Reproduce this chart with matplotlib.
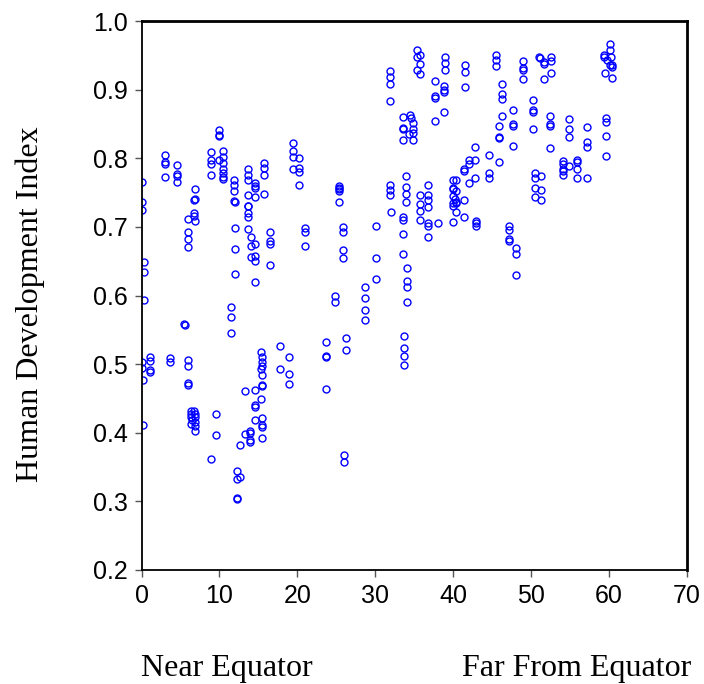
import matplotlib.pyplot as plt

# latitude (absolute degrees) and human development index, read column by column
lat = [0.1, 0.1, 0.1, 0.3, 0.3, 0.3, 0.1, 0.1, 0.2, 0.2,
       1.1, 1.1, 1.1, 1.1,
       3.0, 3.0, 3.0, 3.0, 3.7, 3.7,
       4.5, 4.5, 4.5, 4.5,
       5.5, 5.6,
       6.0, 6.0, 6.0, 6.0, 6.0, 6.0, 6.0, 6.0,
       6.8, 6.8, 6.7, 6.7, 6.7, 6.8, 6.3, 6.7, 6.3, 6.8, 6.3, 6.8, 6.5, 6.8, 6.3, 6.8, 6.8,
       8.9, 8.9, 8.9, 8.9, 8.9, 9.5, 9.5,
       9.9, 9.9, 9.9, 9.9,
       10.5, 10.5, 10.5, 10.4, 10.4, 10.4, 10.4,
       11.9, 11.9, 11.9, 11.9, 12.0, 12.0, 12.0, 12.0, 11.5, 11.5, 11.5,
       12.3, 12.3, 12.6, 12.3, 12.3, 12.6,
       13.3, 13.3, 13.9, 13.9, 13.9, 13.9,
       13.7, 13.7, 13.7, 13.7, 13.7, 13.7, 13.7, 13.7, 13.7,
       14.5, 14.5, 14.5, 14.5, 14.1, 14.0, 14.6, 14.0, 14.6, 14.6, 14.6, 14.6, 14.6, 14.5, 14.6,
       15.7, 15.7, 15.7, 15.7, 15.3, 15.5, 15.5, 15.5, 15.3, 15.4, 15.4, 15.4, 15.3, 15.4, 15.4,
       15.4, 15.4,
       16.5, 16.5, 16.5, 16.5,
       17.8, 17.8,
       18.9, 18.9, 18.9,
       19.4, 19.4, 19.4, 19.4, 20.2, 20.2, 20.2, 20.2,
       21.0, 21.0, 21.0,
       23.7, 23.7, 23.7, 23.7,
       24.8, 24.8,
       25.3, 25.3, 25.3, 25.3, 25.3, 25.8, 25.8, 25.8, 25.8, 26.0, 26.0,
       26.3, 26.3,
       28.7, 28.7, 28.7, 28.7,
       30.1, 30.1, 30.1,
       31.9, 31.9, 31.9, 31.9, 31.9, 31.9, 31.9, 32.0,
       33.5, 33.5, 33.5, 33.5, 33.5, 33.5, 33.5, 33.5, 33.7, 33.7, 33.7, 33.7,
       33.9, 33.9, 33.9, 33.9, 34.0, 34.0, 34.0, 34.0,
       34.5, 34.6, 34.8, 34.8, 34.8, 34.3, 34.8,
       35.3, 35.3, 35.7, 35.7, 35.3, 35.7, 35.7, 35.7, 35.7, 35.7,
       36.8, 36.8, 36.8, 36.8, 36.8, 36.8, 36.8,
       37.6, 37.6, 37.6, 37.6, 38.0,
       38.9, 38.9, 38.9, 38.8, 38.8, 38.8, 38.8,
       40.0, 40.3, 40.0, 40.0, 40.3, 40.0, 40.2, 40.3, 40.3, 40.0, 40.0, 40.3, 40.0,
       41.5, 41.5, 41.5, 41.4, 41.4, 41.4, 41.4,
       42.0, 42.0, 42.0, 42.8, 42.8, 42.8, 42.9, 42.9, 42.9,
       44.6, 44.6, 44.6,
       45.5, 45.5, 45.5, 45.9, 45.9, 45.9, 45.9,
       46.2, 46.2, 46.2, 46.2,
       47.6, 47.6, 47.6, 47.6, 47.1, 47.1, 47.1, 47.1,
       48.1, 48.1, 48.1,
       49.0, 49.0, 49.0, 49.0,
       50.2, 50.2, 50.2, 50.2,
       50.5, 50.5, 51.3, 50.5, 51.3, 50.5, 51.3, 51.0, 51.1, 51.6, 51.6, 51.7,
       52.6, 52.6, 52.6, 52.4, 52.4, 52.4, 52.4,
       54.8, 54.8, 54.8, 54.1, 54.1, 54.1, 54.1, 54.1, 54.8,
       55.9, 55.9, 55.9, 55.9,
       57.1, 57.1, 57.1, 57.1,
       59.6, 59.6, 59.6, 59.6,
       60.1, 60.1, 59.4, 59.4, 60.3, 59.7, 60.1, 60.4, 60.4, 59.5, 60.4]

hdi = [0.766, 0.736, 0.725, 0.649, 0.634, 0.594, 0.503, 0.494, 0.477, 0.411,
       0.510, 0.505, 0.492, 0.489,
       0.805, 0.794, 0.792, 0.773, 0.509, 0.503,
       0.790, 0.777, 0.774, 0.765,
       0.558, 0.557,
       0.711, 0.692, 0.682, 0.671, 0.506, 0.497, 0.473, 0.470,
       0.755, 0.741, 0.739, 0.720, 0.716, 0.709, 0.432, 0.432, 0.427, 0.428, 0.423, 0.423, 0.419,
       0.416, 0.413, 0.410, 0.402,
       0.809, 0.797, 0.791, 0.776, 0.362, 0.427, 0.397,
       0.841, 0.834, 0.832, 0.797,
       0.810, 0.802, 0.793, 0.785, 0.778, 0.773, 0.770,
       0.768, 0.761, 0.752, 0.738, 0.737, 0.699, 0.668, 0.632, 0.584, 0.569, 0.546,
       0.344, 0.333, 0.335, 0.305, 0.303, 0.382,
       0.461, 0.398, 0.402, 0.400, 0.389, 0.387,
       0.785, 0.776, 0.768, 0.746, 0.731, 0.730, 0.720, 0.715, 0.697,
       0.764, 0.760, 0.757, 0.744, 0.685, 0.672, 0.675, 0.656, 0.657, 0.650, 0.620, 0.462, 0.440,
       0.438, 0.419,
       0.793, 0.786, 0.776, 0.748, 0.518, 0.510, 0.503, 0.498, 0.493, 0.484, 0.470, 0.468, 0.449,
       0.422, 0.411, 0.409, 0.392,
       0.693, 0.680, 0.675, 0.644,
       0.527, 0.493,
       0.511, 0.485, 0.471,
       0.822, 0.811, 0.802, 0.785, 0.800, 0.786, 0.780, 0.761,
       0.698, 0.692, 0.672,
       0.532, 0.512, 0.511, 0.464,
       0.599, 0.590,
       0.759, 0.757, 0.755, 0.752, 0.737, 0.700, 0.692, 0.666, 0.654, 0.368, 0.357,
       0.538, 0.521,
       0.612, 0.596, 0.579, 0.564,
       0.702, 0.654, 0.624,
       0.927, 0.918, 0.909, 0.883, 0.761, 0.754, 0.746, 0.722,
       0.860, 0.844, 0.842, 0.827, 0.715, 0.710, 0.690, 0.661, 0.541, 0.524, 0.512, 0.499,
       0.774, 0.758, 0.748, 0.736, 0.640, 0.621, 0.612, 0.590,
       0.863, 0.858, 0.851, 0.842, 0.837, 0.836, 0.826,
       0.958, 0.948, 0.950, 0.938, 0.929, 0.923, 0.746, 0.734, 0.723, 0.710,
       0.761, 0.746, 0.739, 0.729, 0.705, 0.702, 0.685,
       0.912, 0.891, 0.888, 0.855, 0.705,
       0.948, 0.939, 0.929, 0.905, 0.900, 0.896, 0.868,
       0.768, 0.768, 0.757, 0.755, 0.752, 0.745, 0.741, 0.737, 0.735, 0.735, 0.730, 0.722, 0.707,
       0.936, 0.926, 0.904, 0.785, 0.781, 0.739, 0.714,
       0.797, 0.792, 0.764, 0.816, 0.797, 0.771, 0.708, 0.705, 0.701,
       0.805, 0.778, 0.771,
       0.951, 0.943, 0.935, 0.847, 0.831, 0.829, 0.795,
       0.908, 0.894, 0.887, 0.861,
       0.870, 0.850, 0.847, 0.818, 0.701, 0.695, 0.683, 0.680,
       0.669, 0.660, 0.630,
       0.942, 0.932, 0.928, 0.915,
       0.885, 0.870, 0.868, 0.843,
       0.778, 0.772, 0.774, 0.756, 0.754, 0.744, 0.739, 0.947, 0.946, 0.940, 0.937, 0.916,
       0.947, 0.942, 0.925, 0.862, 0.850, 0.847, 0.815,
       0.857, 0.843, 0.831, 0.796, 0.791, 0.784, 0.781, 0.775, 0.789,
       0.798, 0.795, 0.785, 0.771,
       0.846, 0.824, 0.816, 0.771,
       0.859, 0.853, 0.832, 0.803,
       0.967, 0.958, 0.951, 0.947, 0.947, 0.943, 0.936, 0.936, 0.933, 0.925, 0.917]

x_ticks = [0, 10, 20, 30, 40, 50, 60, 70]
y_ticks = [0.2, 0.3, 0.4, 0.5, 0.6, 0.7, 0.8, 0.9, 1.0]

serif = 'Liberation Serif'
sans = 'Liberation Sans'

fig = plt.figure(figsize=(7.04, 6.84), dpi=100)
ax = fig.add_axes([0.201, 0.1667, 0.775, 0.8025])

ax.plot(lat, hdi, linestyle='none', marker='o', markersize=5.0,
        markerfacecolor='none', markeredgecolor='#0000ff', markeredgewidth=1.0)

ax.set_xlim(0, 70)
ax.set_ylim(0.2, 1.0)
ax.set_xticks(x_ticks)
ax.set_yticks(y_ticks)
ax.set_xticklabels([str(t) for t in x_ticks], fontfamily=sans, fontsize=18)
ax.set_yticklabels(['%.1f' % t for t in y_ticks], fontfamily=sans, fontsize=18)
ax.tick_params(direction='out', length=5, width=1, color='#555555', pad=5)

for side in ['left', 'bottom']:
    ax.spines[side].set_linewidth(1.3)
for side in ['top', 'right']:
    ax.spines[side].set_linewidth(2.0)

fig.text(0.043, 0.556, 'Human Development Index', rotation=90,
         ha='center', va='center', fontfamily=serif, fontsize=23)
fig.text(0.200, 0.023, 'Near Equator', ha='left', va='center',
         fontfamily=serif, fontsize=23)
fig.text(0.982, 0.023, 'Far From Equator', ha='right', va='center',
         fontfamily=serif, fontsize=23)

fig.savefig('out.png', dpi=100)
